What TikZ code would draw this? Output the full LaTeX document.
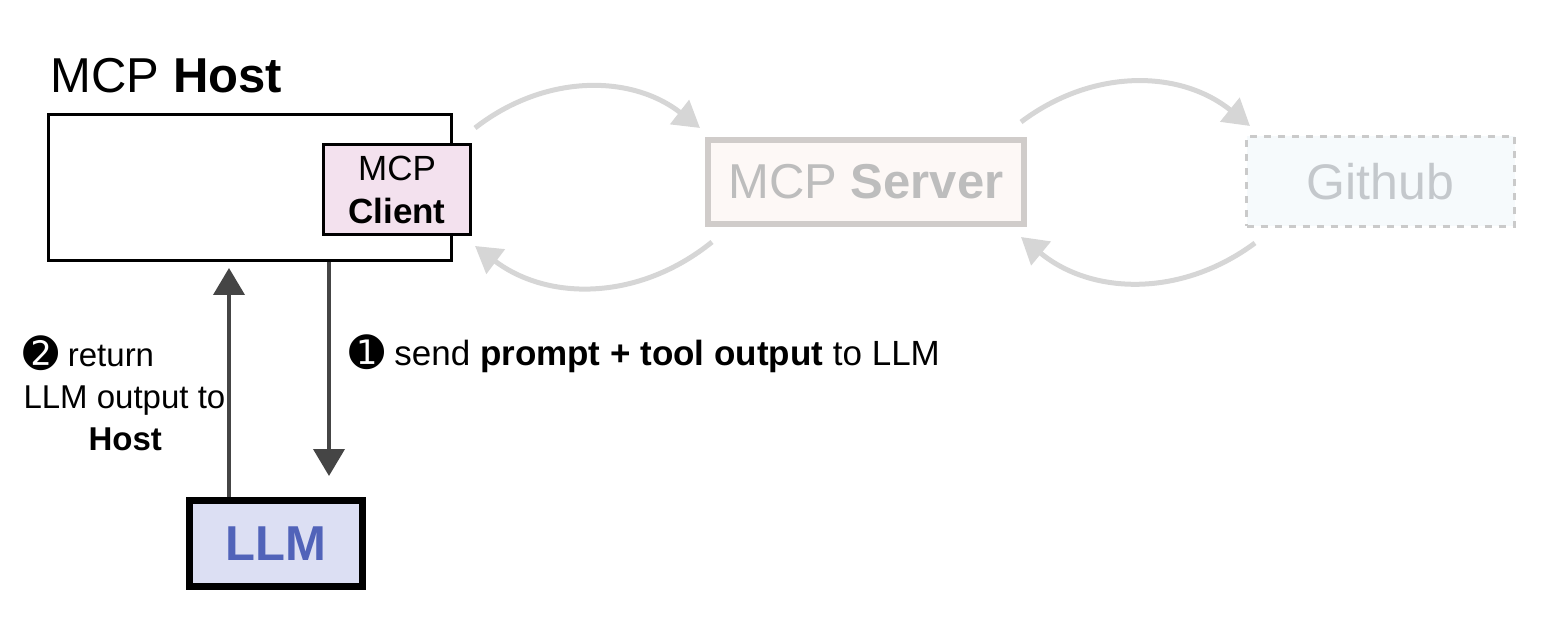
\documentclass[tikz,border=0pt]{standalone}
\usepackage{fontspec}
\setmainfont{Liberation Sans}
\newfontfamily\dingfont{DejaVu Sans}
\usetikzlibrary{arrows.meta,positioning}
\definecolor{clientpink}{HTML}{F3E1EE}
\definecolor{llmfill}{HTML}{DCDFF3}
\definecolor{llmblue}{HTML}{5163B9}
\definecolor{darkline}{HTML}{454545}
\definecolor{softline}{HTML}{D6D6D6}
\definecolor{serverline}{HTML}{D0CCCA}
\definecolor{serverfill}{HTML}{FDF8F6}
\definecolor{servertext}{HTML}{BDBDBD}
\definecolor{githubline}{HTML}{CACACA}
\definecolor{githubfill}{HTML}{F6FAFC}
\definecolor{githubtext}{HTML}{C4C8CC}
\newcommand{\stepnum}[1]{{\dingfont\fontsize{42}{42}\selectfont\raisebox{-2pt}{#1}}}

\begin{document}
\begin{tikzpicture}[x=1pt,y=1pt,
  box/.style={rectangle,inner sep=0pt},
  darkarrow/.style={draw=darkline,line width=4pt,-{Triangle[length=27pt,width=31pt]}},
  softarrow/.style={draw=softline,line width=5pt,-{Triangle[length=26pt,width=30pt]}}]
\useasboundingbox (0,0) rectangle (1544,638);
           % host and client
           \node[box,draw,line width=3pt,minimum width=403pt,minimum height=146pt] (host) at (250,450.5) {};
           \node[anchor=base west,font=\fontsize{49}{56}\selectfont] (hosttitle) at (47,545) {MCP \textbf{Host}};
           \node[box,draw,fill=clientpink,line width=3pt,minimum width=147pt,minimum height=90pt,align=center,
                 font=\fontsize{35}{43}\selectfont] (client) at (397,448.5) {MCP\\\textbf{Client}};
           % faded part on the right
           \node[box,draw=serverline,fill=serverfill,line width=6pt,minimum width=316pt,minimum height=84pt,
                 text=servertext,font=\fontsize{49}{56}\selectfont] (server) at (866,456) {MCP \textbf{Server}};
           \node[box,draw=githubline,fill=githubfill,line width=3pt,dash pattern=on 7pt off 7pt,minimum width=268pt,
                 minimum height=90pt,text=githubtext,font=\fontsize{50}{56}\selectfont] (github) at (1380.5,456.5) {Github};
           \node[box,draw,fill=llmfill,line width=7pt,minimum width=173pt,minimum height=86pt,
                 text=llmblue,font=\fontsize{49}{56}\selectfont\bfseries] (llm) at (276,94.5) {LLM};
           \coordinate (dn) at (329,162);
           \draw[darkarrow,shorten >=6pt] ([xshift=-47pt]llm.north) -- ([xshift=-47pt]llm.north |- host.south);
           \draw[darkarrow] (host.south -| dn) -- (dn);
           \node[anchor=base west,align=left,font=\fontsize{33}{42}\selectfont] (retlabel) at (20,188)
                 {\stepnum{➋} return\\LLM output to\\\hspace*{65pt}\textbf{Host}};
           \node[anchor=base west,font=\fontsize{35}{40}\selectfont] (sendlabel) at (346,273)
                 {\stepnum{➊} send \textbf{prompt + tool output} to LLM};
           % loops between the boxes
           \draw[softarrow] ([shift={(3pt,15pt)}]client.north east) to[bend left=38] ([shift={(-5pt,9pt)}]server.north west);
           \draw[softarrow] ([shift={(7pt,-15pt)}]server.south west) to[bend left=38] ([shift={(3pt,-10pt)}]client.south east);
           \draw[softarrow] ([shift={(-6pt,15pt)}]server.north east) to[bend left=38] ([shift={(5pt,9pt)}]github.north west);
           \draw[softarrow] ([shift={(10pt,-15pt)}]github.south west) to[bend left=38] ([shift={(-6pt,-10pt)}]server.south east);
\end{tikzpicture}
\end{document}
